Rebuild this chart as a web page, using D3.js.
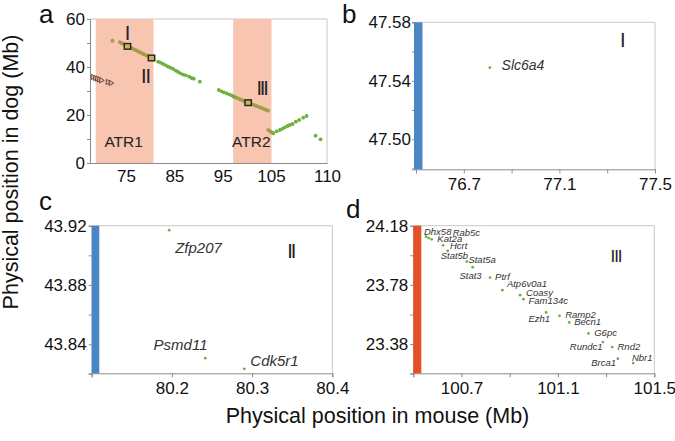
<!DOCTYPE html>
<html>
<head>
<meta charset="utf-8">
<script src="https://cdn.jsdelivr.net/npm/d3@7"></script>
<style>
  html, body { margin: 0; padding: 0; background: #fff; }
  svg { display: block; font-family: "Liberation Sans", Arial, sans-serif; }
</style>
</head>
<body>
<svg id="chart" width="675" height="441"></svg>
<script>
// ---------------- DATA ----------------
// Panel a: mouse (Mb) vs dog (Mb)
const atrNames = ["ATR1", "ATR2"];
const atrStart = [68.74, 97.17];
const atrEnd = [80.69, 105.1];

const triMouse = [68.12, 68.64, 69.05, 69.47, 69.88, 71.23, 71.85];
const triDog   = [35.83, 35.42, 35.13, 34.79, 34.46, 33.75, 33.33];

const greenMouse = [81.64, 82.14, 82.68, 83.24, 83.71, 84.21, 84.75, 85.31, 85.78, 86.28, 86.82, 87.38, 88.06, 88.56, 89.03, 90.27,
                    94.21, 94.77, 95.24, 95.80, 96.34, 96.84, 97.31,
                    105.45, 106.15, 106.84, 107.40, 107.87, 108.43, 108.91, 109.47, 110.15, 110.83, 111.66, 112.37,
                    114.23, 115.26];
const greenDog   = [42.21, 41.79, 41.25, 40.71, 40.13, 39.71, 39.17, 38.46, 37.92, 37.38, 36.79, 36.54, 35.96, 35.42, 35.13, 33.88,
                    30.42, 29.88, 29.46, 29.04, 28.63, 28.21, 27.63,
                    12.38, 13.21, 13.75, 14.29, 14.88, 15.42, 15.83, 16.25, 17.21, 17.92, 18.88, 19.58,
                    11.38, 9.88];

const oliveDotMouse = [72.2];
const oliveDotDog = [50.96];
const oliveSeg1Mouse = [73.7, 75.3, 80.28];
const oliveSeg1Dog   = [50.4, 48.7, 43.75];
const oliveSeg2Mouse = [97.31, 100.27, 104.42];
const oliveSeg2Dog   = [27.63, 25.13, 21.79];
const oliveSeg3Mouse = [104.42, 105.45];
const oliveSeg3Dog   = [13.75, 12.38];

const boxLabels = ["I", "II", "III"];
const boxMouse  = [75.3, 80.28, 100.27];
const boxDog    = [48.6, 43.75, 25.13];

const aYTicks = [0, 10, 20, 30, 40, 50, 60];
const aYLabels = ["0", "", "20", "", "40", "", "60"];
const aXTicks = [75, 85, 95, 105, 116.59];
const aXLabels = ["75", "85", "95", "105", "110"];

// Panel b (region I)
const bGenes = ["Slc6a4"];
const bMouse = [76.809];
const bDog = [47.549];
const bXTicks = [76.5, 76.7, 76.9, 77.1, 77.3, 77.5];
const bXLabels = ["", "76.7", "", "77.1", "", "77.5"];
const bYTicks = [47.48, 47.50, 47.52, 47.54, 47.56, 47.58];
const bYLabels = ["", "47.50", "", "47.54", "", "47.58"];

// Panel c (region II)
const cGenes = ["Zfp207", "Psmd11", "Cdk5r1"];
const cMouse = [80.1966, 80.2416, 80.2903];
const cDog = [43.917, 43.8306, 43.8234];
const cXTicks = [80.1, 80.2, 80.3, 80.4];
const cXLabels = ["", "80.2", "80.3", "80.4"];
const cYTicks = [43.82, 43.84, 43.86, 43.88, 43.90, 43.92];
const cYLabels = ["", "43.84", "", "43.88", "", "43.92"];

// Panel d (region III)
const dGenes = ["Dhx58", "Rab5c", "Kat2a", "Hcrt", "Stat5b", "Stat5a", "Stat3", "Ptrf", "Atp6v0a1", "Coasy",
                "Fam134c", "Ezh1", "Ramp2", "Becn1", "G6pc", "Rundc1", "Rnd2", "Brca1", "Nbr1"];
const dMouse = [100.5526, 100.5637, 100.5762, 100.6232, 100.6426, 100.7216, 100.7465, 100.8185, 100.8697, 100.9431,
                100.9570, 101.0511, 101.1065, 101.1467, 101.2270, 101.2865, 101.3253, 101.3488, 101.4125];
const dDog = [24.1058, 24.0968, 24.0878, 24.0473, 24.0091, 23.9372, 23.8989, 23.8292, 23.7438, 23.7101,
              23.6831, 23.5932, 23.5707, 23.5257, 23.4515, 23.3931, 23.3593, 23.2806, 23.2514];
const dXTicks = [100.5, 100.7, 100.9, 101.1, 101.3, 101.5];
const dXLabels = ["", "100.7", "", "101.1", "", "101.5"];
const dYTicks = [23.18, 23.38, 23.58, 23.78, 23.98, 24.18];
const dYLabels = ["", "23.38", "", "23.78", "", "24.18"];

// ---------------- LAYOUT (label offsets, px) ----------------
const bLabelOff = [[11.7, 2.7]];
const cLabelOff = [[6, 23.3], [-51.7, -8.3], [6, -3.3]];
const dLabelOff = [[-2, -1.8], [24, -2], [5.7, 3], [7, 4], [-7, 8.5], [1.7, 1.7], [-13.3, 12], [5, 2.3], [4.5, -3],
                   [6, 0.5], [5, 5], [-17.7, 9.5], [5.7, 2], [5, 3], [5.7, 3], [-33, 7.5], [5.3, 3.3], [-26.7, 7.5], [-1.3, -2.3]];

// ---------------- STYLE ----------------
const GREEN = "#6fb040";
const OLIVE = "#a59c47";
const PINK = "#f8c5b1";
const BLUE = "#4a86c6";
const RED = "#e64e26";
const AXIS = "#8c8c8c";
const FRAME = "#c8c8c8";
const TICKFONT = 17;

const svg = d3.select("#chart");

function styleAxis(g) {
  g.select(".domain").attr("stroke", AXIS).attr("stroke-width", 1);
  g.selectAll(".tick line").attr("stroke", AXIS);
  g.selectAll(".tick text").attr("fill", "#111").style("font-size", TICKFONT + "px")
    .style("font-family", "'Liberation Sans', Arial, sans-serif");
}

function drawFrame(x, y) {
  const [x0, x1] = x.range();
  const [y0, y1] = y.range();
  svg.append("path")
    .attr("d", `M${x0},${y1}H${x1}V${y0}`)
    .attr("fill", "none").attr("stroke", FRAME).attr("stroke-width", 1);
}

function drawAxes(x, y, xt, xl, yt, yl, xTickSize, xPad, yTickSize, yPad) {
  const gx = svg.append("g").attr("transform", `translate(0,${y.range()[0]})`)
    .call(d3.axisBottom(x).tickValues(xt).tickSize(xTickSize).tickPadding(xPad)
      .tickFormat((d, i) => xl[i]));
  styleAxis(gx);
  const gy = svg.append("g").attr("transform", `translate(${x.range()[0]},0)`)
    .call(d3.axisLeft(y).tickValues(yt).tickSize(yTickSize).tickPadding(yPad)
      .tickFormat((d, i) => yl[i]));
  styleAxis(gy);
}

function panelLetter(t, x, y) {
  svg.append("text").attr("x", x).attr("y", y).text(t)
    .style("font-size", "26px").attr("fill", "#111");
}

function roman(t, x, y, size, width) {
  const el = svg.append("text").attr("x", x).attr("y", y).text(t)
    .attr("text-anchor", "middle")
    .style("font-size", size + "px").attr("fill", "#222");
  if (width) el.attr("textLength", width).attr("lengthAdjust", "spacing");
}

// ---------------- PANEL A ----------------
const xA = d3.scaleLinear().domain([67.55, 116.59]).range([90, 327]);
const yA = d3.scaleLinear().domain([0, 60]).range([163, 19]);

drawFrame(xA, yA);
atrNames.forEach((n, i) => {
  svg.append("rect")
    .attr("x", xA(atrStart[i])).attr("y", yA(60))
    .attr("width", xA(atrEnd[i]) - xA(atrStart[i]))
    .attr("height", yA(0) - yA(60))
    .attr("fill", PINK);
  svg.append("text")
    .attr("x", (xA(atrStart[i]) + xA(atrEnd[i])) / 2 - 1)
    .attr("y", yA(0) - 16.5)
    .attr("text-anchor", "middle").text(n)
    .style("font-size", "15.5px").attr("fill", "#222");
});
drawAxes(xA, yA, aXTicks, aXLabels, aYTicks, aYLabels, 0, 7, 3, 2);

// triangles
svg.append("g").selectAll("path").data(triMouse).join("path")
  .attr("d", d3.symbol().type(d3.symbolTriangle).size(12))
  .attr("transform", (d, i) => `translate(${xA(d)},${yA(triDog[i])}) rotate(-25)`)
  .attr("fill", "#f3b7a6").attr("stroke", "#5a3a3a").attr("stroke-width", 0.8);

// olive segments
const lineA = d3.line().x(d => xA(d[0])).y(d => yA(d[1]));
[[oliveSeg1Mouse, oliveSeg1Dog], [oliveSeg2Mouse, oliveSeg2Dog], [oliveSeg3Mouse, oliveSeg3Dog]].forEach(([m, dg]) => {
  svg.append("path").datum(m.map((v, i) => [v, dg[i]]))
    .attr("d", lineA).attr("fill", "none").attr("stroke", OLIVE)
    .attr("stroke-width", 3.6).attr("stroke-linecap", "round")
    .attr("stroke-dasharray", "7 1");
});
svg.append("g").selectAll("circle").data(oliveDotMouse).join("circle")
  .attr("cx", d => xA(d)).attr("cy", (d, i) => yA(oliveDotDog[i])).attr("r", 2)
  .attr("fill", OLIVE);

// green dots
svg.append("g").selectAll("circle").data(greenMouse).join("circle")
  .attr("cx", d => xA(d)).attr("cy", (d, i) => yA(greenDog[i])).attr("r", 1.9)
  .attr("fill", GREEN);

// boxes
svg.append("g").selectAll("rect").data(boxMouse).join("rect")
  .attr("x", d => xA(d) - 3.2).attr("y", (d, i) => yA(boxDog[i]) - 2.8)
  .attr("width", 6.4).attr("height", 5.6)
  .attr("fill", "#c9b54e").attr("stroke", "#222").attr("stroke-width", 1.4);

// roman numerals in a
const romanOffA = [[0, -6], [-5.5, 24.5], [14.5, -7.5]];
const romanWA = [0, 10, 12.5];
boxLabels.forEach((t, i) => {
  roman(t, xA(boxMouse[i]) + romanOffA[i][0], yA(boxDog[i]) + romanOffA[i][1], 20, romanWA[i]);
});
panelLetter("a", 39, 23);

// ---------------- PANEL B ----------------
const xB = d3.scaleLinear().domain([76.5, 77.5]).range([416, 655]);
const yB = d3.scaleLinear().domain([47.4795, 47.58]).range([169.3, 22.3]);
drawFrame(xB, yB);
drawAxes(xB, yB, bXTicks, bXLabels, bYTicks, bYLabels, 4, 5, 4, 1);
svg.append("rect").attr("x", xB(76.5) - 2).attr("y", yB(47.58))
  .attr("width", 8.5).attr("height", yB.range()[0] - yB(47.58)).attr("fill", BLUE);
svg.append("g").selectAll("circle").data(bMouse).join("circle")
  .attr("cx", d => xB(d)).attr("cy", (d, i) => yB(bDog[i])).attr("r", 1.4).attr("fill", GREEN);
svg.append("g").selectAll("text").data(bGenes).join("text")
  .attr("x", (d, i) => xB(bMouse[i]) + bLabelOff[i][0])
  .attr("y", (d, i) => yB(bDog[i]) + bLabelOff[i][1])
  .text(d => d).style("font-size", "14px").style("font-style", "italic").attr("fill", "#333");
roman("I", 622.7, 46.5, 20, 0);
panelLetter("b", 342, 23);

// ---------------- PANEL C ----------------
const xC = d3.scaleLinear().domain([80.1, 80.4]).range([91.7, 332.3]);
const yC = d3.scaleLinear().domain([43.8204, 43.92]).range([373.3, 225.7]);
drawFrame(xC, yC);
drawAxes(xC, yC, cXTicks, cXLabels, cYTicks, cYLabels, 4, 4.5, 3, 2);
svg.append("rect").attr("x", xC(80.1)).attr("y", yC(43.92))
  .attr("width", 7.6).attr("height", yC.range()[0] - yC(43.92)).attr("fill", BLUE);
svg.append("g").selectAll("circle").data(cMouse).join("circle")
  .attr("cx", d => xC(d)).attr("cy", (d, i) => yC(cDog[i])).attr("r", 1.4).attr("fill", GREEN);
svg.append("g").selectAll("text").data(cGenes).join("text")
  .attr("x", (d, i) => xC(cMouse[i]) + cLabelOff[i][0])
  .attr("y", (d, i) => yC(cDog[i]) + cLabelOff[i][1])
  .text(d => d).style("font-size", "15px").style("font-style", "italic").attr("fill", "#333");
roman("II", 291.7, 258.3, 20, 9);
panelLetter("c", 39, 210);

// ---------------- PANEL D ----------------
const xD = d3.scaleLinear().domain([100.5, 101.5]).range([413.3, 654.3]);
const yD = d3.scaleLinear().domain([23.182, 24.18]).range([373.3, 225.7]);
drawFrame(xD, yD);
drawAxes(xD, yD, dXTicks, dXLabels, dYTicks, dYLabels, 4, 5, 3, 2);
svg.append("rect").attr("x", xD(100.5)).attr("y", yD(24.18))
  .attr("width", 8).attr("height", yD.range()[0] - yD(24.18)).attr("fill", RED);
svg.append("g").selectAll("circle").data(dMouse).join("circle")
  .attr("cx", d => xD(d)).attr("cy", (d, i) => yD(dDog[i])).attr("r", 1.4).attr("fill", GREEN);
svg.append("g").selectAll("text").data(dGenes).join("text")
  .attr("x", (d, i) => xD(dMouse[i]) + dLabelOff[i][0])
  .attr("y", (d, i) => yD(dDog[i]) + dLabelOff[i][1])
  .text(d => d).style("font-size", "9.5px").style("font-style", "italic").attr("fill", "#333");
roman("III", 616.5, 261.5, 17, 12);
panelLetter("d", 346, 218);

// ---------------- AXIS TITLES ----------------
svg.append("text").attr("x", 377.5).attr("y", 423).attr("text-anchor", "middle")
  .text("Physical position in mouse (Mb)").style("font-size", "21.5px").attr("fill", "#111");
svg.append("text").attr("transform", "translate(18,172) rotate(-90)").attr("text-anchor", "middle")
  .text("Physical position in dog (Mb)").style("font-size", "21.5px").attr("fill", "#111");
</script>
</body>
</html>
